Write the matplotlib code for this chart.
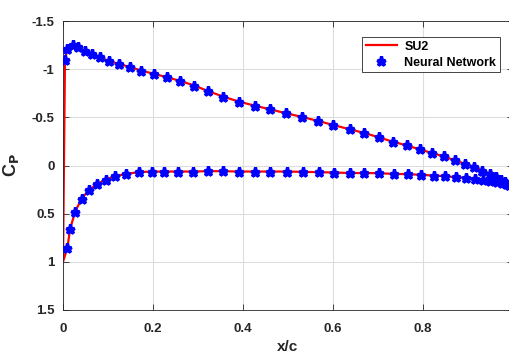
import matplotlib
matplotlib.use("Agg")
import matplotlib.pyplot as plt

plt.rcParams['font.family'] = ['Liberation Sans', 'DejaVu Sans']

# upper surface (suction side), x/c and Cp
x_upper = [0.0044, 0.0096, 0.0216, 0.0327, 0.048, 0.064, 0.082, 0.102, 0.124,
           0.149, 0.174, 0.2016, 0.231, 0.26, 0.292, 0.323, 0.356, 0.391, 0.426,
           0.46, 0.496, 0.532, 0.567, 0.601, 0.637, 0.67, 0.702, 0.733, 0.764,
           0.793, 0.821, 0.847, 0.871, 0.894, 0.914, 0.932, 0.949, 0.962, 0.973,
           0.982, 0.992]
cp_upper = [-1.10, -1.205, -1.253, -1.226, -1.19, -1.153, -1.125, -1.083, -1.055,
            -1.021, -0.986, -0.951, -0.917, -0.878, -0.830, -0.771, -0.715, -0.663,
            -0.621, -0.583, -0.542, -0.503, -0.462, -0.42, -0.376, -0.337, -0.292,
            -0.247, -0.208, -0.167, -0.128, -0.094, -0.052, -0.017, 0.014, 0.052,
            0.087, 0.12, 0.149, 0.174, 0.198]

# lower surface (pressure side)
x_lower = [0.0096, 0.016, 0.027, 0.0415, 0.057, 0.075, 0.095, 0.116, 0.141,
           0.168, 0.197, 0.225, 0.256, 0.289, 0.3215, 0.355, 0.391, 0.426, 0.461,
           0.497, 0.533, 0.568, 0.603, 0.638, 0.67, 0.703, 0.735, 0.766, 0.796,
           0.824, 0.849, 0.874, 0.895, 0.916, 0.934, 0.95, 0.964, 0.975, 0.984,
           0.992]
cp_lower = [0.857, 0.656, 0.479, 0.344, 0.257, 0.195, 0.146, 0.111, 0.087,
            0.069, 0.0625, 0.0625, 0.0625, 0.0625, 0.059, 0.059, 0.0625, 0.0625,
            0.0625, 0.0625, 0.066, 0.069, 0.073, 0.078, 0.078, 0.08, 0.087, 0.09,
            0.097, 0.104, 0.111, 0.121, 0.128, 0.135, 0.146, 0.156, 0.167, 0.177,
            0.1875, 0.198]

# SU2 curve: TE -> LE along upper, stagnation point, LE -> TE along lower
x_stag, cp_stag = 0.0, 1.0
x_su2 = [1.0] + x_upper[::-1] + [x_stag] + x_lower + [1.0]
cp_su2 = [0.21] + cp_upper[::-1] + [cp_stag] + cp_lower + [0.21]

x_nn = x_upper + x_lower
cp_nn = cp_upper + cp_lower

fig = plt.figure(figsize=(5.1, 3.58), dpi=100)
ax = fig.add_axes([63 / 510, 1 - 310 / 358, 450 / 510, 289 / 358])

ax.plot(x_su2, cp_su2, color='red', lw=1.6, label='SU2', zorder=2)
ax.plot(x_nn, cp_nn, ls='none', marker='*', ms=6.5, mew=2.3, color='blue',
        label='Neural Network', zorder=3)

ax.set_xlim(0, 1)
ax.set_ylim(1.5, -1.5)
ax.set_xticks([0, 0.2, 0.4, 0.6, 0.8, 1])
ax.set_xticklabels(['0', '0.2', '0.4', '0.6', '0.8', '1'])
ax.set_yticks([-1.5, -1, -0.5, 0, 0.5, 1, 1.5])
ax.set_yticklabels(['-1.5', '-1', '-0.5', '0', '0.5', '1', '1.5'])
ax.grid(True, color='#dddddd', lw=0.8)
ax.set_axisbelow(True)
ax.tick_params(direction='in', top=True, right=True, labelsize=9.5,
               colors='#262626', length=4, width=0.6)
ax.tick_params(axis='x', pad=9)
ax.tick_params(axis='y', pad=6)
for lab in ax.get_xticklabels() + ax.get_yticklabels():
    lab.set_fontweight('bold')
for s in ax.spines.values():
    s.set_color('#262626')
    s.set_linewidth(0.6)

ax.set_xlabel('x/c', fontsize=11, fontweight='bold', color='#262626', labelpad=4)
ax.set_ylabel(r'C$_\mathbf{P}$', fontsize=13, fontweight='bold', color='#262626', labelpad=8)

leg = ax.legend(loc='upper right', bbox_to_anchor=(0.985, 0.966), fancybox=False,
                prop={'weight': 'bold', 'size': 9}, handlelength=2.5,
                handletextpad=0.6, borderpad=0.3, labelspacing=0.3, framealpha=1)
leg.get_frame().set_edgecolor('#262626')
leg.get_frame().set_linewidth(0.6)

fig.savefig('out.png', dpi=100)
